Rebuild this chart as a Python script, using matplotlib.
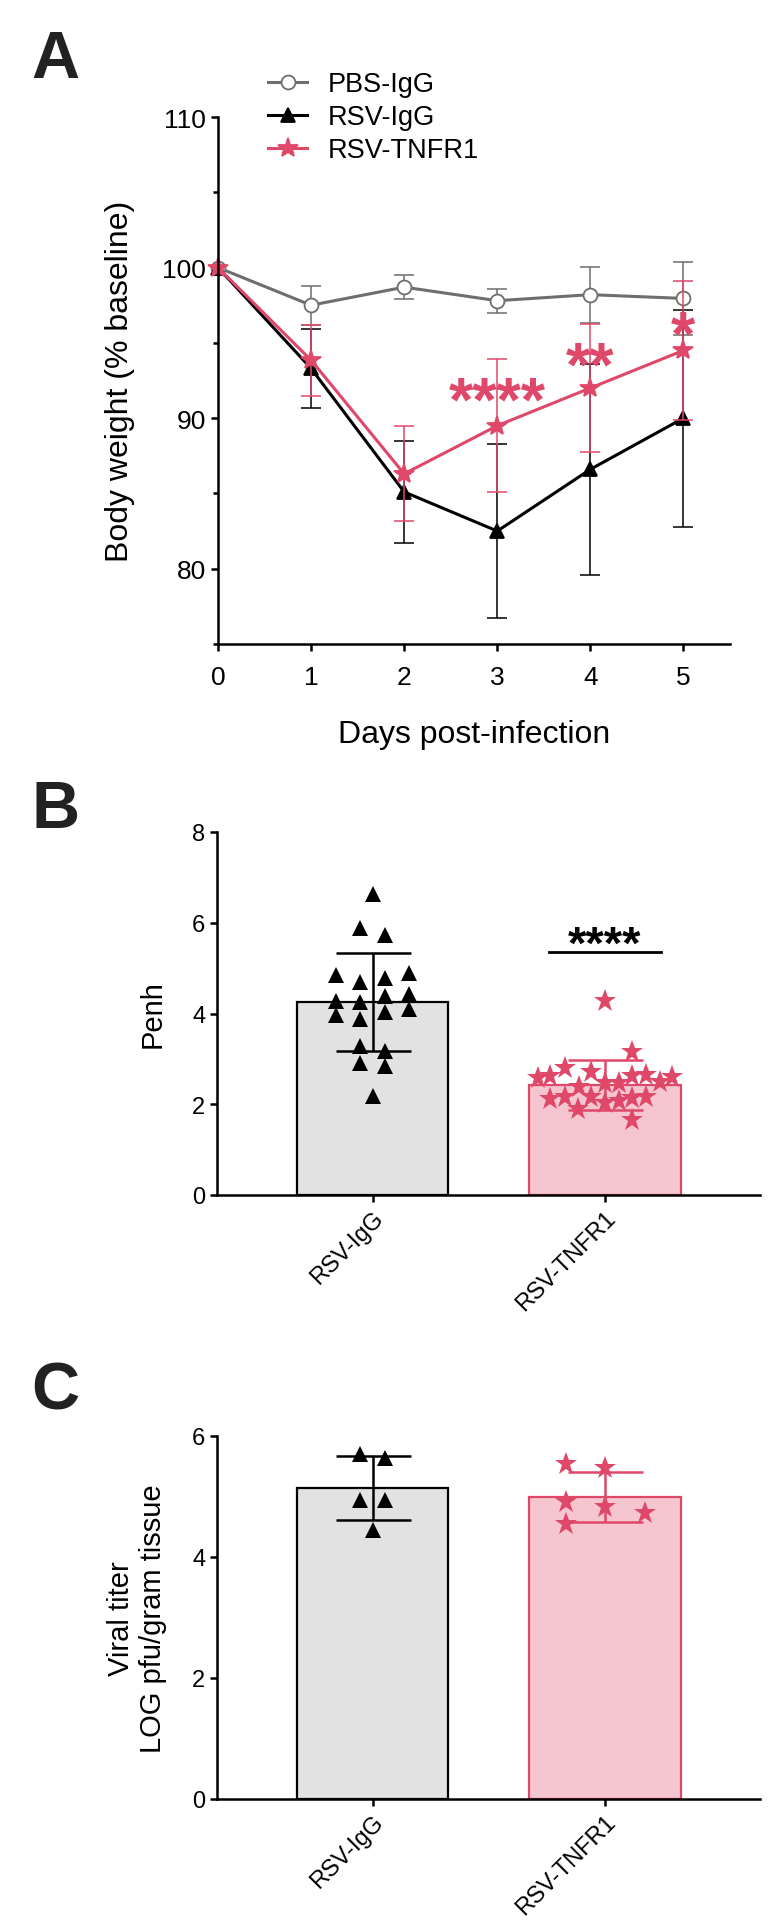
import matplotlib
matplotlib.use("Agg")
import matplotlib.pyplot as plt
import numpy as np
from matplotlib.ticker import MultipleLocator

plt.rcParams.update({"font.family": ["Liberation Sans", "DejaVu Sans"],
                     "axes.linewidth": 1.8, "xtick.major.width": 1.8,
                     "ytick.major.width": 1.8, "ytick.minor.width": 1.8,
                     "xtick.major.size": 5, "ytick.major.size": 5,
                     "ytick.minor.size": 3.5})

PINK = "#E0486A"
PINK_FILL = "#F5C6D0"
GRAY = "#6E6E6E"
GRAY_FILL = "#E2E2E2"

# ---- panel A: body weight ----
DAYS = [0, 1, 2, 3, 4, 5]
PBS_MEAN = [100, 97.5, 98.7, 97.8, 98.2, 97.95]
PBS_SD = [0, 1.3, 0.8, 0.8, 1.85, 2.4]
IGG_MEAN = [100, 93.3, 85.1, 82.5, 86.6, 90.0]
IGG_SD = [0, 2.6, 3.4, 5.8, 7.0, 7.2]
TNF_MEAN = [100, 93.85, 86.3, 89.5, 92.0, 94.5]
TNF_SD = [0, 2.35, 3.15, 4.4, 4.25, 4.6]
SIG_DAYS = [3, 4, 5]
SIG_LABELS = ["****", "**", "*"]
SIG_Y = [92.0, 94.3, 96.35]

# ---- panel B: Penh ----
GROUPS = ["RSV-IgG", "RSV-TNFR1"]
PENH_MEAN = [4.25, 2.43]
PENH_SD = [1.08, 0.55]
PENH_IGG = [6.64, 5.89, 5.72, 4.85, 4.70, 4.79, 4.90, 4.39, 4.43, 4.28,
            4.25, 3.96, 3.88, 4.03, 4.11, 3.28, 3.18, 2.90, 2.84, 2.19]
PENH_TNF = [4.28, 3.16, 2.80, 2.71, 2.63, 2.65, 2.58, 2.63, 2.60, 2.50, 2.47,
            2.47, 2.37, 2.12, 2.16, 2.16, 2.14, 2.16, 2.03, 2.08, 1.89, 1.65]
PENH_SIG_Y = 5.36   # bar under the stars
# horizontal scatter offsets of the dots (layout)
PENH_IGG_DX = [0, -0.054, 0.052, -0.155, -0.054, 0.052, 0.155, 0.052, 0.155,
               -0.155, -0.054, -0.155, -0.054, 0.052, 0.155, -0.054, 0.052,
               -0.054, 0.052, 0]
PENH_TNF_DX = [0, 0.118, -0.172, -0.058, 0.118, 0.178, -0.29, -0.237, 0.29,
               0.237, 0, 0.06, -0.112, -0.237, -0.172, -0.058, 0.118, 0.178,
               0, 0.06, -0.118, 0.118]

# ---- panel C: viral titer ----
VIRAL_MEAN = [5.14, 4.99]
VIRAL_SD = [0.53, 0.41]
VIRAL_IGG = [5.70, 5.64, 4.95, 4.94, 4.44]
VIRAL_TNF = [5.53, 5.47, 4.91, 4.83, 4.73, 4.55]
VIRAL_IGG_DX = [-0.054, 0.052, -0.054, 0.052, 0]
VIRAL_TNF_DX = [-0.166, 0, -0.166, 0, 0.172, -0.166]

W, H = 782, 1931
fig = plt.figure(figsize=(W / 100, H / 100), dpi=100)


def frac(x0, y_top, x1, y_bot):
    return [x0 / W, 1 - y_bot / H, (x1 - x0) / W, (y_bot - y_top) / H]


def stars(ax, x, y, s, fs, color):
    # asterisk glyphs sit high in the line: put the glyph centre on y
    ax.annotate(s, (x, y), xytext=(0, -0.50 * fs), textcoords="offset points",
                ha="center", va="baseline", fontsize=fs, fontweight="bold",
                color=color)


# ---------------- Panel A ---------------- #
ax = fig.add_axes(frac(218, 118, 730, 645))
series = [(PBS_MEAN, PBS_SD, GRAY, "o", 10, "PBS-IgG"),
          (IGG_MEAN, IGG_SD, "black", "^", 10, "RSV-IgG"),
          (TNF_MEAN, TNF_SD, PINK, "*", 15, "RSV-TNFR1")]
handles = []
for mean, sd, col, mk, ms, lab in series:
    ax.errorbar(DAYS[1:], mean[1:], yerr=sd[1:], fmt="none", ecolor=col,
                elinewidth=1.1, capsize=7, capthick=1.1, clip_on=False)
    face = "white" if mk == "o" else col
    h, = ax.plot(DAYS, mean, color=col, lw=2.2, marker=mk, ms=ms,
                 mfc=face, mec=col, mew=1.3, clip_on=False, label=lab)
    handles.append(h)
for d, s, y in zip(SIG_DAYS, SIG_LABELS, SIG_Y):
    stars(ax, d, y, s, 45, PINK)
ax.set_xlim(0, 5.5)
ax.set_ylim(75, 110)
ax.spines["left"].set_bounds(75, 110)
ax.set_xticks(DAYS)
ax.set_yticks([80, 90, 100, 110])
ax.yaxis.set_minor_locator(MultipleLocator(5))
ax.tick_params(labelsize=19)
ax.tick_params(axis="x", pad=10)
for s in ["top", "right"]:
    ax.spines[s].set_visible(False)
ax.set_xlabel("Days post-infection", fontsize=23, labelpad=22)
ax.set_ylabel("Body weight (% baseline)", fontsize=23, labelpad=20)
fig.legend(handles=handles, loc="upper left", bbox_to_anchor=(268 / W, 1 - 72 / H),
           frameon=False, fontsize=19.5, handlelength=1.45, handletextpad=0.75,
           labelspacing=0.26, borderpad=0, borderaxespad=0)


# ---------------- Panels B and C ---------------- #
def bar_panel(rect, mean, sd, pts, dxs, ymax, yticks, ylabel):
    ax = fig.add_axes(rect)
    xs = np.arange(len(GROUPS))
    ax.bar(xs, mean, width=0.65, color=[GRAY_FILL, PINK_FILL],
           edgecolor=["black", PINK], linewidth=1.6, zorder=1)
    colors = ["black", PINK]
    markers = [("^", 11), ("*", 17)]
    for i in range(len(GROUPS)):
        mk, ms = markers[i]
        ax.plot(xs[i] + np.array(dxs[i]), pts[i], ls="none", marker=mk, ms=ms,
                color=colors[i], mew=0, zorder=3)
        ax.errorbar(xs[i], mean[i], yerr=sd[i], fmt="none", ecolor=colors[i],
                    elinewidth=1.8, capsize=27, capthick=1.8, zorder=4)
    ax.set_xlim(-0.669, 1.667)
    ax.set_ylim(0, ymax)
    ax.set_yticks(yticks)
    ax.set_xticks(xs)
    ax.set_xticklabels(GROUPS, rotation=45, ha="right", rotation_mode="anchor")
    ax.tick_params(labelsize=17)
    for s in ["top", "right"]:
        ax.spines[s].set_visible(False)
    ax.set_ylabel(ylabel, fontsize=21, labelpad=18)
    return ax


axb = bar_panel(frac(217, 833, 760, 1196), PENH_MEAN, PENH_SD,
                [PENH_IGG, PENH_TNF], [PENH_IGG_DX, PENH_TNF_DX],
                8, [0, 2, 4, 6, 8], "Penh")
axb.plot([0.76, 1.24], [PENH_SIG_Y, PENH_SIG_Y], color="black", lw=2)
stars(axb, 1, 5.75, "****", 34, "black")

axc = bar_panel(frac(217, 1437, 760, 1800), VIRAL_MEAN, VIRAL_SD,
                [VIRAL_IGG, VIRAL_TNF], [VIRAL_IGG_DX, VIRAL_TNF_DX],
                6, [0, 2, 4, 6], "Viral titer\nLOG pfu/gram tissue")

for lab, y in [("A", 30), ("B", 780), ("C", 1362)]:
    fig.text(31 / W, 1 - y / H, lab, fontsize=48, fontweight="bold",
             va="top", ha="left", color="#222222")

fig.savefig("out.png", dpi=100)
